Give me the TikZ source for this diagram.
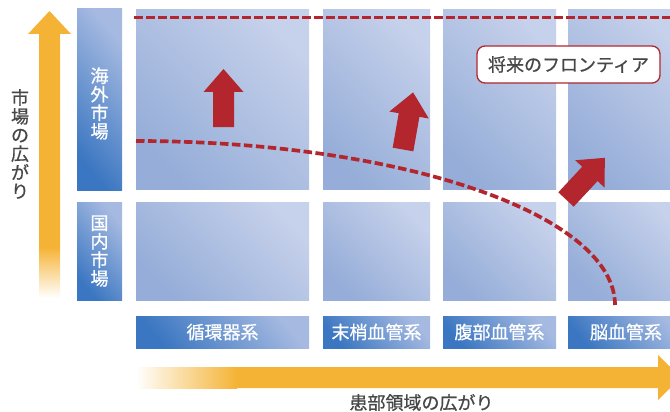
\documentclass[tikz,border=0pt]{standalone}
\usepackage{fontspec}
\newfontfamily\jp[FakeBold=0.7]{Noto Sans CJK JP}
\definecolor{cellD}{HTML}{95ADD8}
\definecolor{cellL}{HTML}{C6D1EB}
\definecolor{labD}{HTML}{3A76C1}
\definecolor{labL}{HTML}{A6BAE1}
\definecolor{org}{HTML}{F5B335}
\definecolor{redc}{HTML}{B3262D}
\definecolor{txt}{HTML}{474747}
\begin{document}
\begin{tikzpicture}[x=1pt,y=-1pt,
  cell/.style={inner sep=0pt, top color=cellL, bottom color=cellD, shading angle=-45},
  lab/.style={inner sep=0pt, top color=labL, bottom color=labD, shading angle=-50, text=white,
    font=\jp\fontsize{18}{18.5}\selectfont, align=center},
  labtext/.style={inner sep=0pt, text=white, font=\jp\fontsize{18}{18.5}\selectfont, align=center},
  ylab/.style={inner sep=0pt, text=txt, font=\jp\fontsize{18}{18.7}\selectfont, align=center},
  tagbox/.style={draw=redc, line width=1.3pt, fill=white, rounded corners=8pt, text=txt,
    minimum width=183pt, minimum height=37pt, inner sep=0pt, font=\jp\fontsize{18}{20}\selectfont},
  reddash/.style={draw=redc, line width=3.7pt, dash pattern=on 8.5pt off 3.5pt},
  redarrow/.style={fill=redc}
]
\useasboundingbox (0,0) rectangle (670,412);
\clip (0,0) rectangle (670,412);

% grid cells, top row
\node[cell, minimum width=173pt, minimum height=180pt] (c11) at (222.5,99.5) {};
\node[cell, minimum width=107pt, minimum height=180pt] (c12) at (376.5,99.5) {};
\node[cell, minimum width=113pt, minimum height=180pt] (c13) at (499.5,99.5) {};
\node[cell, minimum width=116pt, minimum height=180pt] (c14) at (626,99.5) {};
% bottom row
\node[cell, minimum width=173pt, minimum height=97.5pt] (c21) at (222.5,251.25) {};
\node[cell, minimum width=107pt, minimum height=97.5pt] (c22) at (376.5,251.25) {};
\node[cell, minimum width=113pt, minimum height=97.5pt] (c23) at (499.5,251.25) {};
\node[cell, minimum width=116pt, minimum height=97.5pt] (c24) at (626,251.25) {};

% row labels
\node[lab, minimum width=45pt, minimum height=181pt] (kaigai) at (99.5,99.5) {};
\node[labtext] (kaigaiT) at (99.5,103.5) {海\\外\\市\\場};
\node[lab, minimum width=45pt, minimum height=98pt] (kokunai) at (99.5,251) {国\\内\\市\\場};

% column labels
\node[lab, minimum width=173pt, minimum height=32pt] (l1) at (222.5,332) {循環器系};
\node[lab, minimum width=107pt, minimum height=32pt] (l2) at (376.5,332) {末梢血管系};
\node[lab, minimum width=113pt, minimum height=32pt] (l3) at (499.5,332) {腹部血管系};
\node[lab, minimum width=116pt, minimum height=32pt] (l4) at (626,332) {脳血管系};

% vertical axis arrow
\fill[org] (39,247) -- (39,34) -- (28,34) -- (49.5,11) -- (71,34) -- (60,34) -- (60,247) -- cycle;
\shade[top color=org, bottom color=white] (39,247) rectangle (60,298);
\node[ylab] (ylabel) at (20,144) {市\\場\\の\\広\\が\\り};

% horizontal axis arrow
\fill[org] (237,367) -- (658,367) -- (658,355) -- (681,377.5) -- (658,400) -- (658,388) -- (237,388) -- cycle;
\shade[left color=white, right color=org] (136,367) rectangle (237,388);
\node[ylab] (xlabel) at (421.5,402.5) {患部領域の広がり};

% red dashed lines
\coordinate (topL) at (134,17.5);
\coordinate (topR) at (672,17.5);
\draw[reddash] (topL) -- (topR);
\draw[reddash] plot[domain=-90:0, samples=90, smooth] ({136+479*cos(\x)},{305+164*sin(\x)});

% red arrows
\fill[redarrow, shift={(223.5,127)}] (-10.5,0) -- (-10.5,-35) -- (-20,-35) -- (0,-58) -- (20,-35) -- (10.5,-35) -- (10.5,0) -- cycle;
\fill[redarrow, shift={(403,149.5)}, rotate=-10] (-10.5,0) -- (-10.5,-35) -- (-20,-35) -- (0,-58) -- (20,-35) -- (10.5,-35) -- (10.5,0) -- cycle;
\fill[redarrow, shift={(566,199.5)}, rotate=-43] (-10.5,0) -- (-10.5,-35) -- (-20,-35) -- (0,-57) -- (20,-35) -- (10.5,-35) -- (10.5,0) -- cycle;

% frontier tag
\node[tagbox] (frontier) at (568.5,64.5) {将来のフロンティア};
\end{tikzpicture}
\end{document}
